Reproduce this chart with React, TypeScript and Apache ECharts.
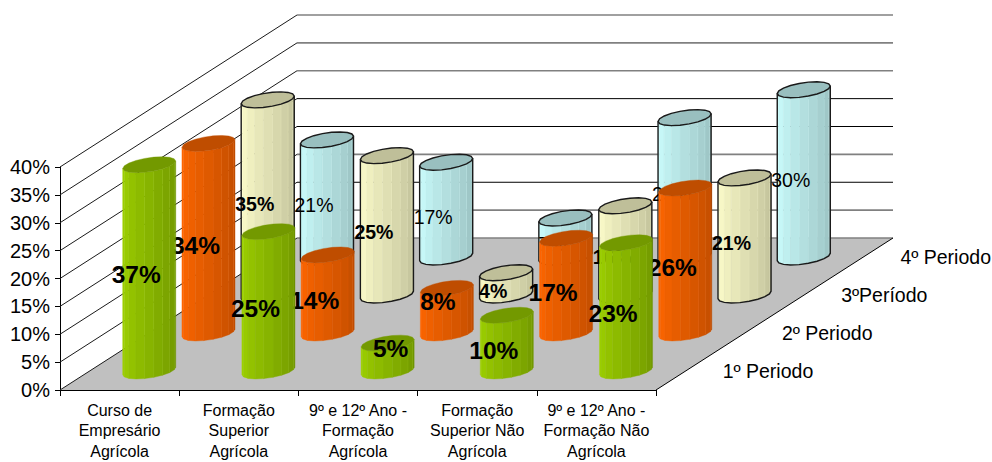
import React, { useEffect, useRef } from "react";
import * as echarts from "echarts";

const categories = [
  "Curso de\nEmpresário\nAgrícola",
  "Formação\nSuperior\nAgrícola",
  "9º e 12º Ano -\nFormação\nAgrícola",
  "Formação\nSuperior Não\nAgrícola",
  "9º e 12º Ano -\nFormação Não\nAgrícola",
];
const periods = ["1º Periodo", "2º Periodo", "3ºPeríodo", "4º Periodo"];
const period1 = [37, 25, 5, 10, 23];
const period2 = [34, 14, 8, 17, 26];
const period3 = [35, 25, 4, 16, 21];
const period4 = [21, 17, 7, 25, 30];
const yTicks = [0, 5, 10, 15, 20, 25, 30, 35, 40];
const softLines = [0, 5, 15, 30, 35, 40];

const DEPTH_X = 237;
const DEPTH_Y = 152;
const R_X = 23.4;
const R_SKEW_X = 12.5;
const R_Y = 8;
const FACETS = 18;

type Look = { light: number[]; dark: number[]; cap: string; line: string | null; font: string };
const looks: Look[] = [
  { light: [158, 209, 0], dark: [112, 150, 0], cap: "#739900", line: null, font: "bold 24.5px 'Liberation Sans'" },
  { light: [255, 102, 0], dark: [191, 77, 0], cap: "#BF4D00", line: null, font: "bold 24.5px 'Liberation Sans'" },
  { light: [255, 255, 204], dark: [191, 191, 153], cap: "#BFBF99", line: "#1a1a1a", font: "bold 19.5px 'Liberation Sans'" },
  { light: [204, 255, 255], dark: [153, 191, 191], cap: "#99BFBF", line: "#1a1a1a", font: "19.5px 'Liberation Sans'" },
];

const mix = (a: number[], b: number[], k: number) =>
  `rgb(${a.map((v, i) => Math.round(v + (b[i] - v) * k)).join(",")})`;

const labelNudge: Record<string, [number, number]> = {
  "0-2": [3, -9],
  "1-2": [-9, -9],
};

const ringPoint = (cx: number, cy: number, t: number) => [
  cx + R_X * Math.cos(t) + R_SKEW_X * Math.sin(t),
  cy - R_Y * Math.sin(t),
];

function cylinderItem(periodIndex: number) {
  return (params: any, api: any) => {
    const cat = api.value(0);
    const val = api.value(1);
    const k = (periodIndex + 0.5) / periods.length;
    const base = api.coord([cat, 0]);
    const top = api.coord([cat, val]);
    const cx = base[0] + DEPTH_X * k;
    const by = base[1] - DEPTH_Y * k;
    const ty = top[1] - DEPTH_Y * k;
    const look = looks[periodIndex];
    const t0 = Math.atan2(R_SKEW_X, R_X) + Math.PI;
    const step = (Math.PI * 2) / FACETS;
    const children: any[] = [];
    const half = FACETS / 2;
    const lower: number[][] = [];
    for (let i = 0; i <= half; i++) lower.push(ringPoint(cx, by, t0 + i * step));
    const upper: number[][] = [];
    for (let i = 0; i <= half; i++) upper.push(ringPoint(cx, ty, t0 + i * step));
    for (let i = 0; i < half; i++) {
      const f = i / (half - 1);
      const fill = mix(look.light, look.dark, f);
      children.push({
        type: "polygon",
        shape: { points: [upper[i], upper[i + 1], lower[i + 1], lower[i]] },
        style: { fill, stroke: fill, lineWidth: 0.4 },
      });
    }
    for (let i = 4; i < half; i++) {
      children.push({
        type: "line",
        shape: { x1: upper[i][0], y1: upper[i][1], x2: lower[i][0], y2: lower[i][1] },
        style: { stroke: mix(look.light, look.light, 0), opacity: 0.3, lineWidth: 0.8 },
      });
    }
    if (look.line) {
      children.push({
        type: "polyline",
        shape: { points: [upper[0], ...lower, upper[half]] },
        style: { fill: "none", stroke: look.line, lineWidth: 1.4 },
      });
    }
    const cap: number[][] = [];
    for (let i = 0; i < FACETS; i++) cap.push(ringPoint(cx, ty, t0 + i * step));
    children.push({
      type: "polygon",
      shape: { points: cap },
      style: {
        fill: look.cap,
        stroke: look.line || look.cap,
        lineWidth: look.line ? 1.4 : 0.4,
      },
    });
    const nudge = labelNudge[`${periodIndex}-${cat}`];
    children.push({
      type: "text",
      x: cx + (nudge ? nudge[0] : -13),
      y: (by + ty) / 2 + (nudge ? nudge[1] : 7),
      style: {
        text: `${val}%`,
        font: look.font,
        fill: "#000",
        align: "center",
        verticalAlign: "middle",
      },
    });
    return { type: "group", children };
  };
}

function shellItem(params: any, api: any) {
  const left = api.coord([0, 0])[0] - (api.coord([1, 0])[0] - api.coord([0, 0])[0]) / 2;
  const right = left + params.coordSys.width;
  const floor = api.coord([0, 0])[1];
  const children: any[] = [];
  children.push({
    type: "polygon",
    shape: {
      points: [
        [left, floor],
        [right, floor],
        [right + DEPTH_X, floor - DEPTH_Y],
        [left + DEPTH_X, floor - DEPTH_Y],
      ],
    },
    style: { fill: "#C0C0C0" },
  });
  yTicks.forEach((v) => {
    const y = api.coord([0, v])[1];
    const soft = softLines.includes(v);
    children.push({
      type: "line",
      shape: { x1: left, y1: y, x2: left + DEPTH_X, y2: y - DEPTH_Y },
      style: { stroke: "#1a1a1a", lineWidth: 1 },
    });
    children.push({
      type: "line",
      shape: { x1: left + DEPTH_X, y1: y - DEPTH_Y, x2: right + DEPTH_X, y2: y - DEPTH_Y },
      style: { stroke: soft ? "#808080" : "#000", lineWidth: soft ? 1.6 : 1 },
    });
  });
  children.push({
    type: "line",
    shape: { x1: right, y1: floor, x2: right + DEPTH_X, y2: floor - DEPTH_Y },
    style: { stroke: "#000", lineWidth: 1 },
  });
  periods.forEach((name, i) => {
    const k = (i + 0.5) / periods.length;
    children.push({
      type: "text",
      x: right + DEPTH_X * k + 37,
      y: floor - DEPTH_Y * k,
      style: {
        text: name,
        font: "19.5px 'Liberation Sans'",
        fill: "#000",
        align: "left",
        verticalAlign: "middle",
      },
    });
  });
  return { type: "group", children };
}

const toData = (values: number[]) => values.map((v, i) => [i, v]);

export default function App() {
  const ref = useRef<HTMLDivElement>(null);
  useEffect(() => {
    const chart = echarts.init(ref.current!, undefined, { renderer: "svg" });
    const all = [period1, period2, period3, period4];
    chart.setOption({
      animation: false,
      backgroundColor: "#fff",
      grid: { left: 60, top: 167, width: 596, height: 223, containLabel: false, outerBoundsMode: "none" },
      xAxis: {
        type: "category",
        data: categories,
        boundaryGap: true,
        axisLine: { show: true, lineStyle: { color: "#000", width: 1 } },
        axisTick: { show: true, length: 6, lineStyle: { color: "#000" } },
        axisLabel: {
          interval: 0,
          color: "#000",
          margin: 10,
          lineHeight: 20.5,
          fontFamily: "Liberation Sans",
          fontSize: 16,
          hideOverlap: false,
        },
      },
      yAxis: {
        type: "value",
        min: 0,
        max: 40,
        interval: 5,
        splitLine: { show: false },
        axisLine: { show: true, lineStyle: { color: "#000", width: 1 } },
        axisTick: { show: true, length: 5, lineStyle: { color: "#000" } },
        axisLabel: {
          color: "#000",
          margin: 10,
          fontFamily: "Liberation Sans",
          fontSize: 20,
          formatter: "{value}%",
        },
      },
      series: [
        {
          type: "custom",
          name: "shell",
          silent: true,
          clip: false,
          z: 1,
          renderItem: shellItem,
          data: [[0, 0]],
          encode: { x: 0, y: 1 },
        },
        ...[3, 2, 1, 0].map((p, order) => ({
          type: "custom",
          name: periods[p],
          clip: false,
          z: 2 + order,
          renderItem: cylinderItem(p),
          data: toData(all[p]),
          encode: { x: 0, y: 1 },
        })),
      ],
    });
    return () => chart.dispose();
  }, []);
  return (
    <div
      ref={ref}
      style={{ position: "absolute", left: 0, top: 0, width: 992, height: 462 }}
    />
  );
}
